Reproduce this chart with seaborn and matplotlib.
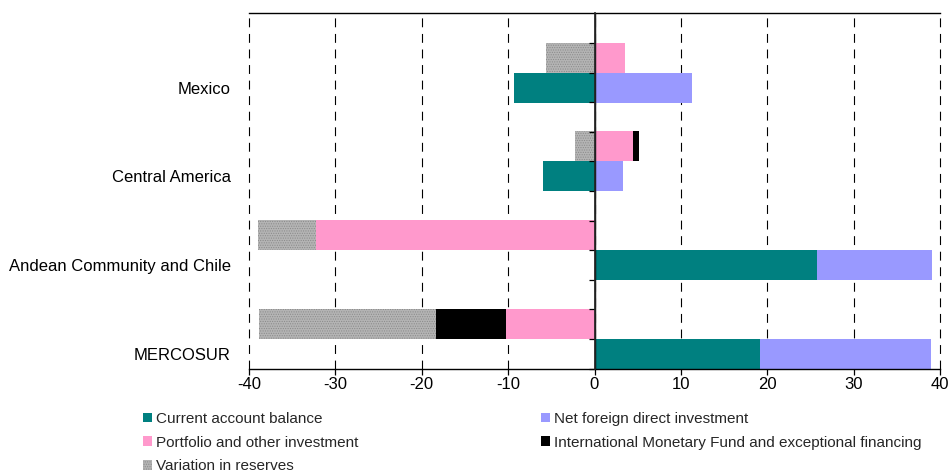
import numpy as np
import pandas as pd
import matplotlib
matplotlib.use("Agg")
import matplotlib.pyplot as plt
from matplotlib.patches import Patch
import seaborn as sns

# Balance-of-payments components by subregion (billions of dollars)
regions = ["Mexico", "Central America", "Andean Community and Chile", "MERCOSUR"]
current_account = [-9.3, -6.0, 25.8, 19.2]
net_fdi = [11.3, 3.3, 13.3, 19.8]
portfolio_other = [3.5, 4.5, -32.3, -10.2]
imf_exceptional = [0.0, 0.7, 0.0, -8.1]
reserves_variation = [-5.6, -2.3, -6.7, -20.6]
x_ticks = [-40, -30, -20, -10, 0, 10, 20, 30, 40]

series_labels = {
    "ca": "Current account balance",
    "fdi": "Net foreign direct investment",
    "pf": "Portfolio and other investment",
    "imf": "International Monetary Fund and exceptional financing",
    "res": "Variation in reserves",
}
series_colors = {
    "ca": "#008080",
    "fdi": "#9999FF",
    "pf": "#FF99CC",
    "imf": "#000000",
    "res": "#b4b4b4",
}
series_hatch = {"res": "......."}

sns.set_theme(style="white")
plt.rcParams["font.family"] = ["Liberation Sans", "DejaVu Sans"]
plt.rcParams["hatch.color"] = "#8a8a8a"
plt.rcParams["hatch.linewidth"] = 0.5

fig = plt.figure(figsize=(9.52, 4.74), dpi=100)
ax = fig.add_axes([249 / 952, 1 - 369 / 474, 691 / 952, 356 / 474])


def stacked_ends(series_list):
    """Outer end of each segment when positives and negatives stack separately."""
    n = len(regions)
    pos, neg = np.zeros(n), np.zeros(n)
    ends = []
    for vals in series_list:
        v = np.asarray(vals, dtype=float)
        end = np.where(v > 0, pos + v, np.where(v < 0, neg + v, 0.0))
        pos = np.where(v > 0, pos + v, pos)
        neg = np.where(v < 0, neg + v, neg)
        ends.append(end)
    return ends


rows = [
    ("flows", [("pf", portfolio_other), ("imf", imf_exceptional), ("res", reserves_variation)]),
    ("balance", [("ca", current_account), ("fdi", net_fdi)]),
]
bar_width = 0.676

for row, segments in rows:
    ends = stacked_ends([vals for _, vals in segments])
    # outer segments first, inner ones painted over them
    for (key, _), end in reversed(list(zip(segments, ends))):
        df = pd.DataFrame({"region": regions, "row": row, "value": end})
        sns.barplot(
            data=df, x="value", y="region", hue="row",
            hue_order=["flows", "balance"], order=regions, orient="h",
            palette={"flows": series_colors[key], "balance": series_colors[key]},
            width=bar_width, dodge=True, saturation=1, errorbar=None,
            legend=False, linewidth=0, hatch=series_hatch.get(key),
            edgecolor="#8a8a8a", ax=ax, zorder=2,
        )

ax.set_xlim(x_ticks[0], x_ticks[-1])
ax.set_ylim(len(regions) - 1 + bar_width / 2, -bar_width / 2 - 1 / 3)
ax.set_xticks(x_ticks)
ax.set_xticklabels([str(t) for t in x_ticks])
ax.set_yticks(np.arange(len(regions)) + bar_width / 4)
ax.set_yticklabels(regions)
ax.set_xlabel("")
ax.set_ylabel("")

ax.grid(axis="x", color="#000000", linestyle=(0, (8, 6)), linewidth=0.8, zorder=0)
for gl in ax.get_xgridlines():
    gl.set_clip_on(False)
ax.set_axisbelow(True)
ax.axvline(0, color="black", linewidth=1.0, zorder=3)

ax.tick_params(axis="x", bottom=True, length=4, width=0.9, color="black",
               labelsize=12, pad=1.5, labelcolor="black")
ax.tick_params(axis="y", left=False, length=0, pad=13, labelsize=12, labelcolor="black")
for side in ("left", "right"):
    ax.spines[side].set_visible(False)
for side in ("top", "bottom"):
    ax.spines[side].set_color("black")
    ax.spines[side].set_linewidth(1.0)

# small category ticks along the zero axis
zero_axis = ax.secondary_yaxis(0.5)
zero_axis.set_zorder(5)
zero_ticks = np.arange(-1, 3 * len(regions) - 1) / 3
zero_axis.set_yticks(zero_ticks, labels=[""] * len(zero_ticks))
zero_axis.yaxis.set_ticks_position("left")
zero_axis.tick_params(axis="y", left=True, right=False, labelleft=False,
                      labelright=False, length=4, width=0.9, color="black",
                      direction="out")
zero_axis.spines["left"].set_color("black")
zero_axis.spines["left"].set_linewidth(1.0)

handles = [
    Patch(facecolor=series_colors[k], edgecolor="#8a8a8a" if k == "res" else "none",
          hatch=series_hatch.get(k), linewidth=0, label=series_labels[k])
    for k in ["ca", "pf", "res", "fdi", "imf"]
]
fig.legend(
    handles=handles, loc="upper left", bbox_to_anchor=(143 / 952, 1 - 412 / 474),
    ncol=2, frameon=False, fontsize=11, handlelength=0.6, handleheight=0.6,
    handletextpad=0.25, columnspacing=11.95, labelspacing=0.63,
    borderaxespad=0, borderpad=0,
)

fig.savefig("out.png", dpi=100)
